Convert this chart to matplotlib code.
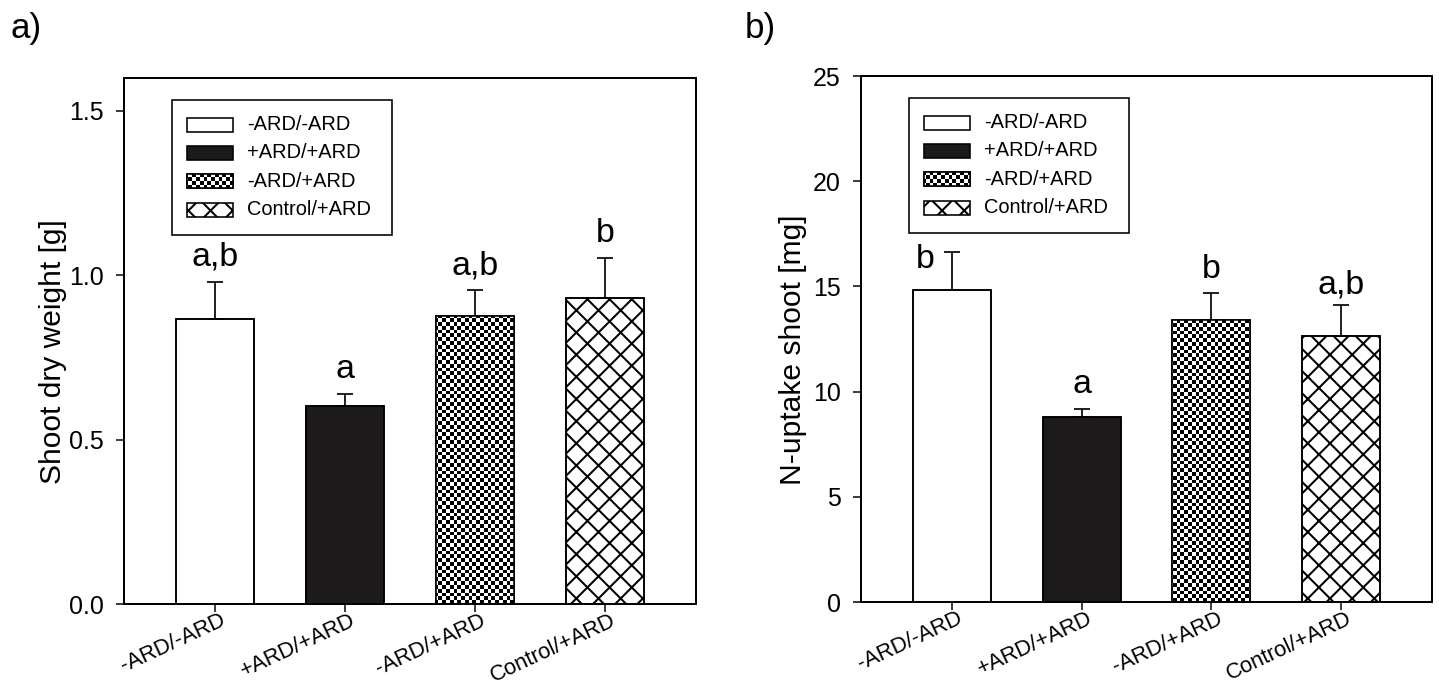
import numpy as np
import matplotlib
matplotlib.use('Agg')
import matplotlib.pyplot as plt
from matplotlib.patches import Rectangle
from matplotlib.transforms import ScaledTranslation

# ---------------- data ----------------
groups = ['-ARD/-ARD', '+ARD/+ARD', '-ARD/+ARD', 'Control/+ARD']
dry_mean = [0.867, 0.602, 0.876, 0.931]
dry_err = [0.113, 0.036, 0.079, 0.122]
dry_letters = ['a,b', 'a', 'a,b', 'b']
n_mean = [14.83, 8.80, 13.41, 12.62]
n_err = [1.80, 0.35, 1.26, 1.48]
n_letters = ['b', 'a', 'b', 'a,b']
dry_ticks = [0.0, 0.5, 1.0, 1.5]
dry_ticklabels = ['0.0', '0.5', '1.0', '1.5']
n_ticks = [0, 5, 10, 15, 20, 25]
n_ticklabels = ['0', '5', '10', '15', '20', '25']

# ---------------- style ----------------
W, H = 1439, 688
DPI = 133
PX = 72.0 / DPI          # points per pixel
plt.rcParams['font.family'] = ['Liberation Sans', 'DejaVu Sans']
plt.rcParams['hatch.linewidth'] = 1.1
plt.rcParams['hatch.color'] = 'black'

fig = plt.figure(figsize=(W / DPI, H / DPI), dpi=DPI)


def axes_px(x0, y0, x1, y1):
    return fig.add_axes([x0 / W, 1 - y1 / H, (x1 - x0) / W, (y1 - y0) / H])


ax1 = axes_px(124, 78, 696, 604)
ax2 = axes_px(861, 76, 1432, 602)

BLACK = '#1c1a1b'
EDGE_LW = 1.6 * PX
CELL = 3.8  # checker cell, px


def checker(ax, clip_patch, z):
    bb = ax.get_position()
    nx = int(round(bb.width * W / CELL))
    ny = int(round(bb.height * H / CELL))
    ii, jj = np.meshgrid(np.arange(nx), np.arange(ny))
    board = ((ii + jj) % 2).astype(float)
    im = ax.imshow(board, cmap='gray_r', vmin=0, vmax=1, extent=(0, 1, 0, 1),
                   transform=ax.transAxes, interpolation='nearest',
                   aspect='auto', zorder=z)
    im.set_clip_path(clip_patch)
    return im


def panel(ax, means, errs, letters, ylim, ticks, ticklabels, ylabel,
          label_x, letter_offsets, xlab_px):
    x = np.arange(len(groups))
    faces = ['white', BLACK, 'white', 'white']
    hatches = [None, None, None, 'xx']
    bars = ax.bar(x, means, width=0.6, color=faces, edgecolor='black',
                  linewidth=EDGE_LW, zorder=1)
    for b, h in zip(bars, hatches):
        if h:
            b.set_hatch(h)
    checker(ax, bars[2], 1.5)
    # outline on top of the texture
    ax.bar(x, means, width=0.6, fill=False, edgecolor='black',
           linewidth=EDGE_LW, zorder=2)
    ax.errorbar(x, means, yerr=[np.zeros(len(x)), errs], fmt='none',
                ecolor='black', elinewidth=1.7 * PX, capsize=8 * PX,
                capthick=1.7 * PX, zorder=1.2)
    for xi, m, e, lab, off in zip(x, means, errs, letters, letter_offsets):
        ax.annotate(lab, xy=(xi, m + e), xytext=(off[0] * PX, off[1] * PX),
                    textcoords='offset points', ha='center', va='baseline',
                    fontsize=34 * PX)
    ax.set_xlim(-0.7, 3.7)
    ax.set_ylim(*ylim)
    ax.set_yticks(ticks, ticklabels)
    ax.set_xticks(x, groups, rotation=25, ha='right', va='top',
                  rotation_mode='anchor')
    ax.tick_params(direction='out', length=8 * PX, width=1.5 * PX,
                   color='black')
    ax.tick_params(axis='y', pad=12 * PX, labelsize=25 * PX)
    ax.tick_params(axis='x', pad=0, labelsize=xlab_px * PX)
    shift = ScaledTranslation(5 / DPI, 2 / DPI, fig.dpi_scale_trans)
    for t in ax.get_xticklabels():
        t.set_transform(t.get_transform() + shift)
    for sp in ax.spines.values():
        sp.set_linewidth(2.0 * PX)
    ax.set_ylabel(ylabel, fontsize=30 * PX)
    ax.yaxis.set_label_coords(label_x, 0.48)

    # ---- manual legend (pixel geometry relative to axes top-left) ----
    bb = ax.get_position()
    aw, ah = bb.width * W, bb.height * H

    def fx(px):
        return px / aw

    def fy(py):
        return 1 - py / ah

    frame = Rectangle((fx(48), fy(157)), fx(220), 135 / ah,
                      transform=ax.transAxes, facecolor='white',
                      edgecolor='black', linewidth=1.6 * PX, zorder=3)
    ax.add_patch(frame)
    row_y = [47, 75, 103, 132]
    for k, (ry, lab) in enumerate(zip(row_y, groups)):
        fc = BLACK if k == 1 else 'white'
        r = Rectangle((fx(63), fy(ry + 7)), fx(46), 14 / ah,
                      transform=ax.transAxes, facecolor=fc, edgecolor='black',
                      linewidth=1.6 * PX, zorder=4,
                      hatch='xx' if k == 3 else None)
        ax.add_patch(r)
        if k == 2:
            checker(ax, r, 4.5)
            r2 = Rectangle((fx(63), fy(ry + 7)), fx(46), 14 / ah,
                           transform=ax.transAxes, fill=False,
                           edgecolor='black', linewidth=1.6 * PX, zorder=5)
            ax.add_patch(r2)
        ax.text(fx(123), fy(ry), lab, transform=ax.transAxes, ha='left',
                va='center', fontsize=20 * PX, zorder=6)


panel(ax1, dry_mean, dry_err, dry_letters, (0, 1.6), dry_ticks, dry_ticklabels,
      'Shoot dry weight [g]', -0.0997,
      [(0, 16), (0, 16), (0, 16), (0, 16)], 22)
panel(ax2, n_mean, n_err, n_letters, (0, 25), n_ticks, n_ticklabels,
      'N-uptake shoot [mg]', -0.095,
      [(-27, -16), (0, 16), (0, 15), (0, 12)], 22)

fig.text(10 / W, 1 - 38 / H, 'a)', fontsize=35 * PX, va='baseline', ha='left')
fig.text(745 / W, 1 - 38 / H, 'b)', fontsize=35 * PX, va='baseline', ha='left')

fig.savefig('out.png', dpi=DPI)
